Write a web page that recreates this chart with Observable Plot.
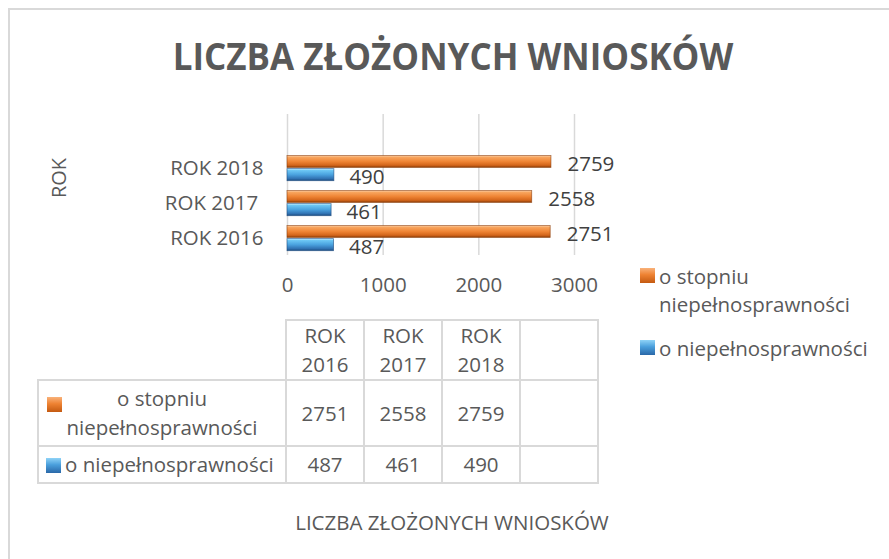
<!DOCTYPE html>
<html><head><meta charset="utf-8">
<script src="https://cdn.jsdelivr.net/npm/d3@7"></script>
<script src="https://cdn.jsdelivr.net/npm/@observablehq/plot@0.6"></script>
<style>
body{margin:0;background:#fff;font-family:"Open Sans",sans-serif;}
#wrap{position:relative;width:889px;height:559px;overflow:hidden;background:#fff;}
#frame{position:absolute;left:8px;top:8px;width:1000px;height:1000px;border-left:2px solid #d9d9d9;border-top:2px solid #d9d9d9;box-sizing:border-box;}
#title{position:absolute;left:0;width:906px;top:32px;text-align:center;font-weight:700;font-size:38px;line-height:46px;color:#595959;transform:scaleX(0.92);transform-origin:453px 0;}
#ytitle{position:absolute;left:58px;top:178px;transform:translate(-50%,-50%) rotate(-90deg);font-size:20px;color:#595959;white-space:nowrap;}
#chart{position:absolute;left:0;top:0;}
#chart svg text{white-space:pre;}
#tbl{position:absolute;left:37px;top:319px;border-collapse:collapse;table-layout:fixed;width:562px;font-size:20.5px;color:#595959;}
#tbl td{border:2px solid #d9d9d9;text-align:center;vertical-align:middle;padding:0;line-height:29px;overflow:visible;white-space:normal;}
#tbl td.blank{border-left:none;border-top:none;}
#tbl td.lab{position:relative;}
.mk{display:inline-block;width:15px;height:15px;}
.mk.or{background:linear-gradient(to bottom,#f9b27a 0%,#ee8232 45%,#c45a11 100%);}
.mk.bl{background:linear-gradient(to bottom,#8fd3f7 0%,#4a9fdc 45%,#2a68a8 100%);}
#legend{position:absolute;left:640px;top:262px;font-size:20.5px;color:#595959;line-height:28px;}
#legend .it{display:flex;align-items:flex-start;margin-bottom:16px;}
#legend .it .mk{margin-top:6px;margin-right:4px;flex:none;}
#xtitle{position:absolute;left:0;width:904px;top:507px;text-align:center;font-size:20.5px;line-height:30px;color:#595959;}
</style>
</head><body>
<div id="wrap">
  <div id="frame"></div>
  <div id="title">LICZBA ZŁOŻONYCH WNIOSKÓW</div>
  <div id="ytitle">ROK</div>
  <div id="chart"></div>
  <table id="tbl"></table>
  <div id="legend"></div>
  <div id="xtitle">LICZBA ZŁOŻONYCH WNIOSKÓW</div>
</div>
<script>
// ---- data ----
const categories = ["ROK 2016", "ROK 2017 ", "ROK 2018", ""];
const seriesNames = ["o stopniu niepełnosprawności", "o niepełnosprawności"];
const valuesStopien = [2751, 2558, 2759, null];
const valuesNiepeln = [487, 461, 490, null];
const xTicks = [0, 1000, 2000, 3000];

const rowsStopien = categories.map((c, i) => ({category: c, value: valuesStopien[i]})).filter(d => d.value != null);
const rowsNiepeln = categories.map((c, i) => ({category: c, value: valuesNiepeln[i]})).filter(d => d.value != null);

const plot = Plot.plot({
  width: 889,
  height: 310,
  marginLeft: 287,
  marginRight: 315,
  marginTop: 114,
  marginBottom: 55,
  style: {fontFamily: "Open Sans", fontSize: "20.5px", color: "#595959", background: "transparent"},
  x: {domain: [0, 3000], ticks: xTicks},
  y: {type: "band", domain: categories.slice().reverse(), padding: 0},
  marks: [
    Plot.ruleX(xTicks, {stroke: "#d9d9d9", strokeWidth: 1.5}),
    Plot.barX(rowsStopien, {x: "value", y: "category", fill: "url(#gradOrange)", stroke: "#8a3c08", strokeWidth: 0.8, strokeOpacity: 0.7, insetTop: 5.5, insetBottom: 17.6}),
    Plot.barX(rowsNiepeln, {x: "value", y: "category", fill: "url(#gradBlue)", stroke: "#1c4c80", strokeWidth: 0.8, strokeOpacity: 0.7, insetTop: 18.6, insetBottom: 4.3}),
    Plot.text(rowsStopien, {x: "value", y: "category", text: d => String(d.value), dx: 16, dy: -4, textAnchor: "start", fill: "#404040"}),
    Plot.text(rowsNiepeln, {x: "value", y: "category", text: d => String(d.value), dx: 15, dy: 9, textAnchor: "start", fill: "#404040"}),
    Plot.axisX({ticks: xTicks, tickSize: 0, tickPadding: 22, tickFormat: d => String(d), label: null}),
    Plot.axisY({anchor: "left", tickSize: 0, tickPadding: 24, label: null})
  ]
});

const ns = "http://www.w3.org/2000/svg";
const defs = document.createElementNS(ns, "defs");
function grad(id, stops) {
  const g = document.createElementNS(ns, "linearGradient");
  g.setAttribute("id", id);
  g.setAttribute("x1", "0"); g.setAttribute("y1", "0");
  g.setAttribute("x2", "0"); g.setAttribute("y2", "1");
  for (const [o, c] of stops) {
    const s = document.createElementNS(ns, "stop");
    s.setAttribute("offset", o); s.setAttribute("stop-color", c);
    g.appendChild(s);
  }
  defs.appendChild(g);
}
grad("gradOrange", [["0", "#fbd3ad"], ["0.15", "#f8a55e"], ["0.5", "#ef8535"], ["0.82", "#d3651a"], ["1", "#8a3c08"]]);
grad("gradBlue", [["0", "#c9efff"], ["0.15", "#6cc6f4"], ["0.5", "#4aa2df"], ["0.82", "#3274b4"], ["1", "#1c4c80"]]);
plot.insertBefore(defs, plot.firstChild);
document.getElementById("chart").appendChild(plot);

// ---- data table ----
const tbl = document.getElementById("tbl");
const colW = [248, 78, 78, 78, 78];
const cg = document.createElement("colgroup");
colW.forEach(w => { const c = document.createElement("col"); c.style.width = w + "px"; cg.appendChild(c); });
tbl.appendChild(cg);
const rowH = [58, 66, 37];
function tr(h) { const r = document.createElement("tr"); r.style.height = h + "px"; tbl.appendChild(r); return r; }
function td(r, html, cls) { const c = document.createElement("td"); c.innerHTML = html; if (cls) c.className = cls; r.appendChild(c); return c; }
const r0 = tr(rowH[0]);
td(r0, "", "blank");
categories.forEach(c => td(r0, c.trim()));
const r1 = tr(rowH[1]);
td(r1, '<span class="mk or" style="position:absolute;left:8px;top:16px"></span>o stopniu<br>niepełnosprawności', "lab");
valuesStopien.forEach(v => td(r1, v == null ? "" : String(v)));
const r2 = tr(rowH[2]);
const c2 = td(r2, '<span class="mk bl" style="margin-right:4px;vertical-align:-1px"></span>o niepełnosprawności', "lab");
c2.style.textAlign = "left"; c2.style.paddingLeft = "7px"; c2.style.whiteSpace = "nowrap";
valuesNiepeln.forEach(v => td(r2, v == null ? "" : String(v)));

// ---- legend ----
const lg = document.getElementById("legend");
lg.innerHTML =
  '<div class="it"><span class="mk or"></span><span>o stopniu<br>niepełnosprawności</span></div>' +
  '<div class="it"><span class="mk bl"></span><span>' + seriesNames[1] + '</span></div>';
</script>
</body></html>
